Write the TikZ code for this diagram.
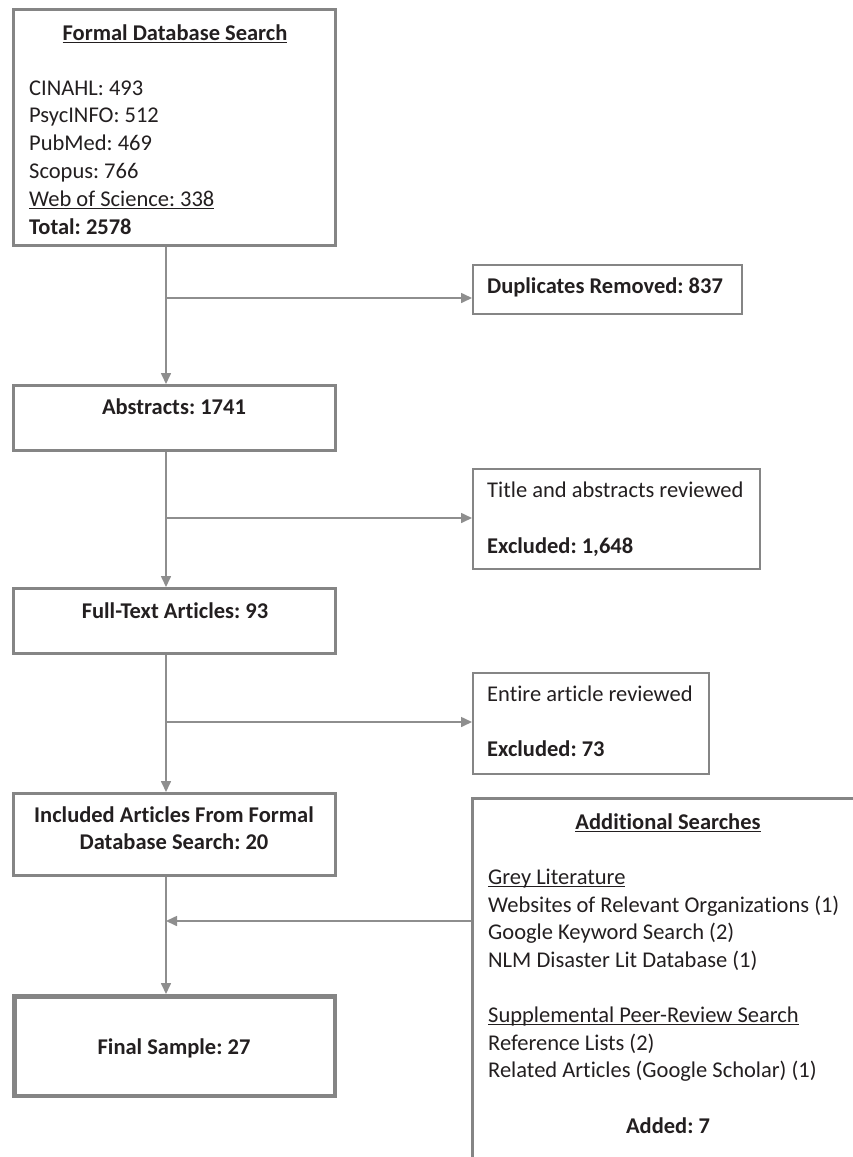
\documentclass[tikz,border=0pt]{standalone}
\usepackage{fontspec}
\setmainfont{Carlito}[Ligatures=NoCommon]
\usetikzlibrary{arrows.meta}
\definecolor{bordergray}{HTML}{858585}
\definecolor{linegray}{HTML}{8E8E8E}
\definecolor{ink}{HTML}{231F20}
\newcommand{\myul}[1]{\begingroup\setbox0\hbox{#1}\rlap{\rule[-2.9pt]{\wd0}{1.3pt}}\box0\endgroup}
\frenchspacing
\begin{document}
\begin{tikzpicture}[x=1pt,y=-1pt,
  mainbox/.style={draw=bordergray, line width=3pt, inner sep=0pt, minimum width=322pt},
  sidebox/.style={draw=bordergray, line width=2pt, inner sep=0pt},
  txt/.style={inner sep=0pt, text=ink, font=\fontsize{22.5}{27.8}\selectfont},
  btxt/.style={txt, font=\fontsize{22.5}{27.8}\selectfont\bfseries},
  conn/.style={draw=linegray, line width=1.6pt},
  arr/.style={conn, -{Triangle[length=11pt,width=10pt]}}]
\useasboundingbox (0,0) rectangle (853,1157);
\fill[white] (0,0) rectangle (853,1157);
\clip (0,0) rectangle (853,1157);

% main column boxes
\node[mainbox, minimum height=236pt] (box1) at (174.5,127.5) {};
\node[mainbox, minimum height=65pt] (abs) at (174.5,418) {};
\node[mainbox, minimum height=65pt] (ft) at (174.5,621) {};
\node[mainbox, minimum height=82pt] (inc) at (174.5,834.5) {};
\node[mainbox, line width=4.5pt, minimum width=320.5pt, minimum height=99.5pt] (fin) at (174.5,1046) {};

% side boxes
\node[sidebox, minimum width=269pt, minimum height=49pt] (dup) at (607.5,289.5) {};
\node[sidebox, minimum width=287pt, minimum height=100pt] (tit) at (616.5,519) {};
\node[sidebox, minimum width=236pt, minimum height=101pt] (ent) at (591,723.5) {};
\node[sidebox, line width=2.6pt, anchor=north west, minimum width=600pt, minimum height=600pt] (add) at (471,797) {};

% texts: formal database search
\node[btxt, anchor=base] (t1) at (175,40) {\myul{Formal Database Search}};
\node[txt, anchor=base west] (t2) at (29,95) {CINAHL: 493};
\node[txt, anchor=base west] (t3) at (29,122.8) {PsycINFO: 512};
\node[txt, anchor=base west] (t4) at (29,150.6) {PubMed: 469};
\node[txt, anchor=base west] (t5) at (29,178.4) {Scopus: 766};
\node[txt, anchor=base west] (t6) at (29,206.2) {\myul{Web of Science: 338}};
\node[btxt, anchor=base west] (t7) at (29,234) {Total: 2578};

% main column texts
\node[btxt, anchor=base] (tabs) at (174,414) {Abstracts: 1741};
\node[btxt, anchor=base] (tft) at (175,618) {Full-Text Articles: 93};
\node[btxt, anchor=base] (tinc1) at (174,822) {Included Articles From Formal};
\node[btxt, anchor=base] (tinc2) at (174,849.5) {Database Search: 20};
\node[btxt, anchor=base] (tfin) at (174,1054) {Final Sample: 27};

% side texts
\node[btxt, anchor=base] (tdup) at (605,293) {Duplicates Removed: 837};
\node[txt, anchor=base west] (ttit1) at (487,497) {Title and abstracts reviewed};
\node[btxt, anchor=base west] (ttit2) at (487,553) {Excluded: 1,648};
\node[txt, anchor=base west] (tent1) at (487,701) {Entire article reviewed};
\node[btxt, anchor=base west] (tent2) at (487,756) {Excluded: 73};

% additional searches texts
\node[btxt, anchor=base] (ta0) at (668,829) {\myul{Additional Searches}};
\node[txt, anchor=base west] (ta1) at (488,884) {\myul{Grey Literature}};
\node[txt, anchor=base west] (ta2) at (488,912) {Websites of Relevant Organizations (1)};
\node[txt, anchor=base west] (ta3) at (488,939.5) {Google Keyword Search (2)};
\node[txt, anchor=base west] (ta4) at (488,967) {NLM Disaster Lit Database (1)};
\node[txt, anchor=base west] (ta5) at (488,1022) {\myul{Supplemental Peer-Review Search}};
\node[txt, anchor=base west] (ta6) at (488,1050) {Reference Lists (2)};
\node[txt, anchor=base west] (ta7) at (488,1077) {Related Articles (Google Scholar) (1)};
\node[btxt, anchor=base] (ta8) at (668,1133) {Added: 7};

% connectors
\coordinate (s) at (166,0);
\coordinate (b1) at (166,298);
\coordinate (b2) at (166,518);
\coordinate (b3) at (166,722);
\coordinate (a1) at (166,921);
\draw[arr] (box1.south -| s) -- (abs.north -| s);
\draw[arr] (abs.south -| s) -- (ft.north -| s);
\draw[arr] (ft.south -| s) -- (inc.north -| s);
\draw[arr] (inc.south -| s) -- (fin.north -| s);
\draw[arr] (b1) -- (b1 -| dup.west);
\draw[arr] (b2) -- (b2 -| tit.west);
\draw[arr] (b3) -- (b3 -| ent.west);
\draw[arr] (a1 -| add.west) -- (a1);
\end{tikzpicture}
\end{document}
